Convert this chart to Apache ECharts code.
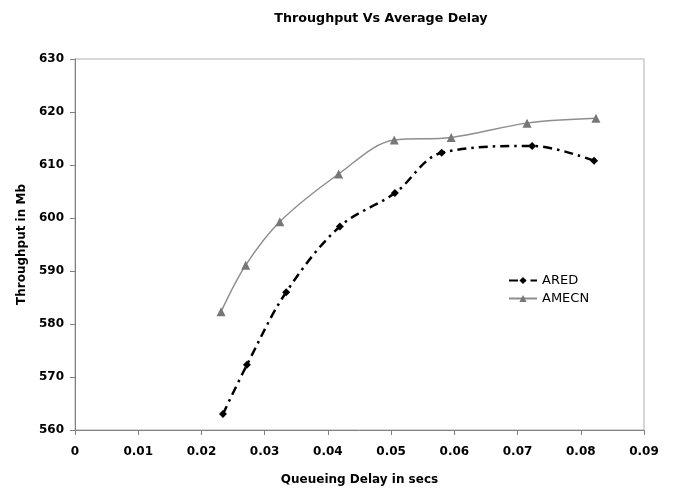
<!DOCTYPE html>
<html><head><meta charset="utf-8">
<script src="https://cdn.jsdelivr.net/npm/echarts@6/dist/echarts.min.js"></script>
<style>html,body{margin:0;padding:0;background:#fff}#c{width:676px;height:488px}</style>
</head><body><div id="c"></div>
<script>
var aredDelay = [0.0234, 0.0272, 0.0334, 0.0419, 0.0506, 0.0580, 0.0723, 0.0821];
var aredThroughput = [563.0, 572.3, 586.0, 598.4, 604.7, 612.3, 613.6, 610.8];
var amecnDelay = [0.0231, 0.0270, 0.0324, 0.0417, 0.0505, 0.0595, 0.0715, 0.0824];
var amecnThroughput = [582.3, 591.1, 599.3, 608.3, 614.7, 615.2, 617.9, 618.8];
var xTicks = [0, 0.01, 0.02, 0.03, 0.04, 0.05, 0.06, 0.07, 0.08, 0.09];
var yTicks = [560, 570, 580, 590, 600, 610, 620, 630];

function pairs(xs, ys){ return xs.map(function(x,i){ return [x, ys[i]]; }); }
var font = 'DejaVu Sans, Verdana, sans-serif';
var chart = echarts.init(document.getElementById('c'));
chart.setOption({
  animation: false,
  backgroundColor: '#fff',
  title: {
    text: 'Throughput Vs Average Delay',
    left: 376, top: 7, textAlign: 'center',
    textStyle: {fontFamily: font, fontSize: 12.7, fontWeight: 'bold', color: '#000'}
  },
  grid: {left: 75, right: 32, top: 59, bottom: 58, show: true, borderColor: '#b0b0b0', borderWidth: 1,
    containLabel: false, outerBoundsMode: 'none'},
  legend: {
    orient: 'vertical', left: 508, top: 274, padding: 0, itemWidth: 28, itemHeight: 9, itemGap: 5,
    textStyle: {fontFamily: font, fontSize: 13, color: '#000'},
    data: ['ARED', 'AMECN']
  },
  xAxis: {
    type: 'value', min: xTicks[0], max: xTicks[xTicks.length-1], interval: 0.01,
    name: 'Queueing Delay in secs', nameLocation: 'middle', nameGap: 44,
    nameTextStyle: {fontFamily: font, fontSize: 12, fontWeight: 'bold', color: '#000'},
    axisLine: {lineStyle: {color: '#808080', width: 1}},
    axisTick: {show: true, length: 5, lineStyle: {color: '#808080'}},
    axisLabel: {fontFamily: font, fontSize: 12, fontWeight: 'bold', color: '#000', margin: 16,
      formatter: function(v){ var t = xTicks.filter(function(k){return Math.abs(k-v)<1e-9;}); return t.length ? String(t[0]) : ''; }},
    splitLine: {show: false}
  },
  yAxis: {
    type: 'value', min: yTicks[0], max: yTicks[yTicks.length-1], interval: 10,
    name: 'Throughput in Mb', nameLocation: 'middle', nameGap: 44,
    nameTextStyle: {fontFamily: font, fontSize: 12, fontWeight: 'bold', color: '#000'},
    axisLine: {show: true, lineStyle: {color: '#808080', width: 1}},
    axisTick: {show: true, length: 5, lineStyle: {color: '#808080'}},
    axisLabel: {fontFamily: font, fontSize: 12, fontWeight: 'bold', color: '#000', margin: 11},
    splitLine: {show: false}
  },
  series: [
    {
      name: 'ARED', type: 'line', smooth: 0.35,
      data: pairs(aredDelay, aredThroughput),
      symbol: 'diamond', symbolSize: 8,
      itemStyle: {color: '#000'},
      lineStyle: {color: '#000', width: 2.5, type: [9, 5, 2.5, 5]}
    },
    {
      name: 'AMECN', type: 'line', smooth: 0.35,
      data: pairs(amecnDelay, amecnThroughput),
      symbol: 'triangle', symbolSize: 9,
      itemStyle: {color: '#777'},
      lineStyle: {color: '#8e8e8e', width: 1.5}
    }
  ]
});
</script></body></html>
